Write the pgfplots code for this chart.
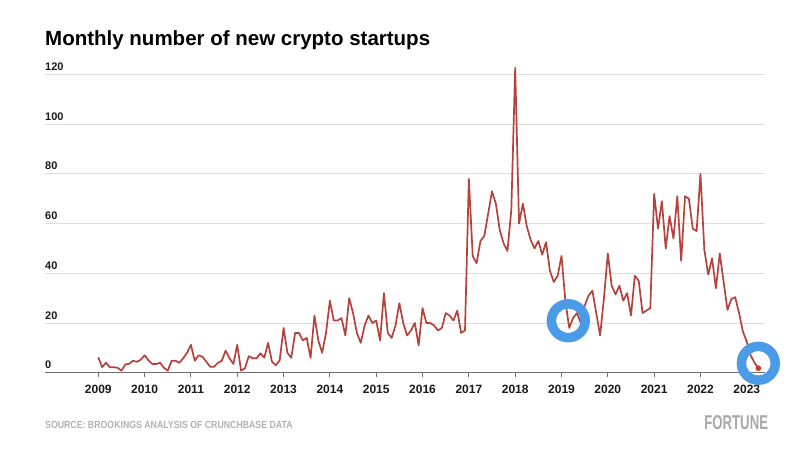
\documentclass[border=0pt]{standalone}
\usepackage{fontspec}
\setmainfont{Liberation Sans}
\newfontfamily\titlefont{Liberation Sans}
\newfontfamily\tickfont{Liberation Sans}
\newfontfamily\srcfont{Liberation Sans}[FakeStretch=0.85]
\newfontfamily\logofont{Liberation Sans}[FakeStretch=0.66]
\usepackage{pgfplots}
\usepackage{pgfplotstable}
\pgfplotsset{compat=1.18}
\definecolor{linered}{HTML}{B5423B}
\definecolor{dotred}{HTML}{CC3A2C}
\definecolor{ringblue}{HTML}{4A9BE8}
\definecolor{gridgray}{HTML}{DEDEDE}
\definecolor{axisgray}{HTML}{6E6E6E}
\definecolor{srcgray}{HTML}{B2B2B2}
\definecolor{logogray}{HTML}{A8A8A8}
\definecolor{labelblack}{HTML}{1A1A1A}

\pgfplotstableread[row sep=\\]{
v\\
6.2\\ 2.2\\ 4\\ 2.2\\ 2.2\\ 2\\ 0.8\\ 3.3\\ 3.6\\ 4.8\\ 4.4\\ 5.2\\
7\\ 5\\ 3.5\\ 3.5\\ 4\\ 2\\ 0.8\\ 4.8\\ 4.8\\ 4\\ 5.8\\ 8\\
11.2\\ 4.8\\ 7\\ 6.4\\ 4.4\\ 2.4\\ 2.4\\ 4\\ 4.8\\ 8.9\\ 5.8\\ 3.5\\
11.2\\ 0.8\\ 1.8\\ 6.7\\ 5.8\\ 5.8\\ 7.8\\ 6\\ 12\\ 4.4\\ 3\\ 5\\
18\\ 8\\ 6\\ 16\\ 16\\ 13\\ 14\\ 6\\ 23\\ 13\\ 8\\ 16\\
29\\ 21\\ 21\\ 22\\ 15\\ 30\\ 24\\ 16\\ 12\\ 19\\ 23\\ 20\\
21\\ 13\\ 32\\ 16\\ 14\\ 19\\ 28\\ 20\\ 15\\ 17\\ 20\\ 11\\
26\\ 20\\ 20\\ 19\\ 17\\ 18\\ 24\\ 23\\ 21\\ 25\\ 16\\ 17\\
78\\ 47\\ 44\\ 53\\ 55\\ 64\\ 73\\ 68\\ 57.5\\ 52\\ 49\\ 65.5\\
122.7\\ 60\\ 68\\ 59\\ 53.5\\ 50\\ 53\\ 47.5\\ 52.5\\ 41\\ 36.5\\ 39\\
47\\ 29\\ 18\\ 22\\ 24\\ 20\\ 27\\ 31\\ 33\\ 24\\ 15\\ 30\\
48\\ 35\\ 31.5\\ 35\\ 29\\ 32\\ 23\\ 39\\ 37\\ 24\\ 25\\ 26\\
72\\ 58\\ 69\\ 50\\ 63\\ 54\\ 71\\ 45\\ 71\\ 70\\ 58\\ 57\\
80\\ 49.5\\ 39.5\\ 46\\ 34\\ 48\\ 36.5\\ 25.3\\ 29.6\\ 30.4\\ 24\\ 16.5\\
12.5\\ 7\\ 4\\ 1.8\\
}\startups

\begin{document}
\begin{tikzpicture}[x=1pt,y=1pt]
\fill[white] (0,0) rectangle (800,452);
\useasboundingbox (0,0) rectangle (800,452);
\node[anchor=base west, inner sep=0pt, text=black] at (45,406)
  {\titlefont\bfseries\fontsize{20.5}{24}\selectfont Monthly number of new crypto startups};
\begin{axis}[
  at={(45pt,79.3pt)}, anchor=south west,
  scale only axis, width=720pt, height=310.6pt,
  xmin=2007.85, xmax=2023.393,
  ymin=0, ymax=125,
  clip=false,
  axis x line*=bottom, axis y line*=left,
  x axis line style={draw=axisgray, line width=1.4pt, -},
  y axis line style={draw=none},
  xtick={2009,2010,...,2023},
  ytick={0,20,...,120},
  tick align=outside,
  major tick length=4pt,
  xtick style={draw=axisgray, line width=1pt},
  ytick style={draw=none},
  ymajorgrids,
  grid style={draw=gridgray, line width=1pt},
  /pgf/number format/assume math mode=true,
  /pgf/number format/1000 sep={},
  xticklabel style={font=\tickfont\bfseries\fontsize{12}{14}\selectfont, text=labelblack, anchor=base, inner sep=0pt, yshift=-17pt},
  yticklabel style={font=\tickfont\bfseries\fontsize{11}{13}\selectfont, text=labelblack, anchor=base west, inner sep=0pt, xshift=4pt, yshift=4pt},
]
\addplot[linered, line width=1.7pt, line join=round] table[x expr=2009+\coordindex/12, y=v] {\startups};
\addplot[only marks, mark=*, mark size=2.6pt, mark options={fill=dotred, draw=dotred}] coordinates {(2023.25,1.8)};
\addplot[only marks, mark=o, mark size=16.9pt, mark options={draw=ringblue, line width=9.5pt}] coordinates {(2019.147,20.9) (2023.249,3.8)};
\end{axis}
\node[anchor=base west, inner sep=0pt, text=srcgray] at (45,23)
  {\srcfont\bfseries\fontsize{10.3}{12}\selectfont SOURCE: BROOKINGS ANALYSIS OF CRUNCHBASE DATA};
\node[anchor=base east, inner sep=0pt, text=logogray] at (768.3,22.7)
  {\logofont\bfseries\fontsize{20}{24}\selectfont FORTUNE};
\end{tikzpicture}
\end{document}
